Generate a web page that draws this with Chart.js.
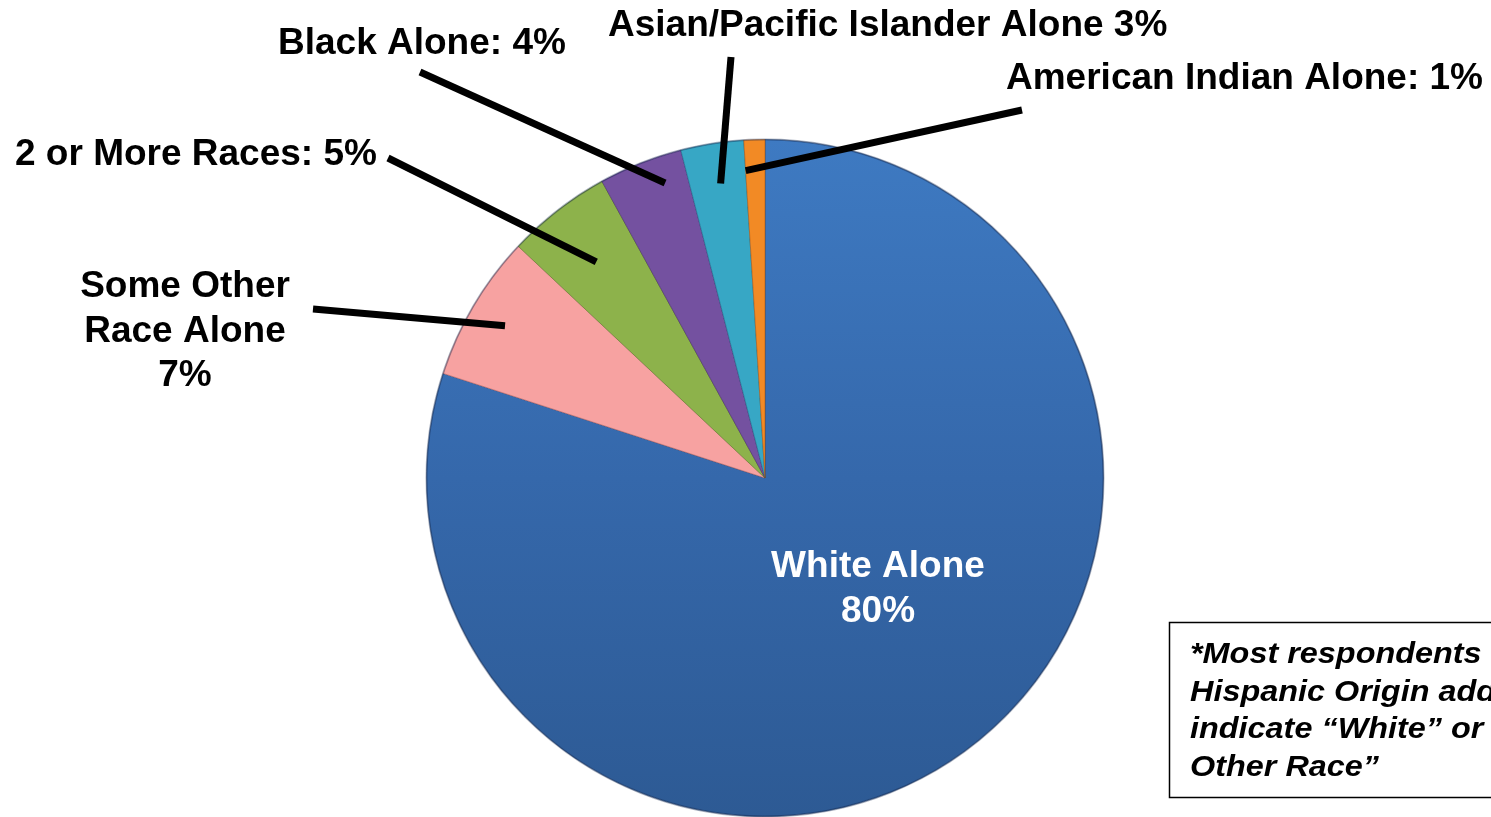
<!DOCTYPE html>
<html>
<head>
<meta charset="utf-8">
<script src="https://cdn.jsdelivr.net/npm/chart.js@4"></script>
<style>
  html, body { margin: 0; padding: 0; background: #fff; overflow: hidden; }
  #wrap { position: relative; width: 1491px; height: 817px; }
</style>
</head>
<body>
<div id="wrap"><canvas id="raceChart"></canvas></div>
<script>
// data
const categories = ['White Alone', 'Some Other Race Alone', '2 or More Races', 'Black Alone', 'Asian/Pacific Islander Alone', 'American Indian Alone'];
const shares = [80, 7, 5, 4, 3, 1];
const labelLines = [
    ['White Alone', '80%'],
    ['Some Other', 'Race Alone', '7%'],
    ['2 or More Races: 5%'],
    ['Black Alone: 4%'],
    ['Asian/Pacific Islander Alone 3%'],
    ['American Indian Alone: 1%']
];
const noteLines = ['*Most respondents of', 'Hispanic Origin additionally', 'indicate \u201cWhite\u201d or \u201cSome', 'Other Race\u201d'];

const sliceColors = ['#3a72b8', '#f7a2a1', '#8db24b', '#7451a0', '#37a7c5', '#f28a25'];
const sliceEdges = ['rgba(25,55,100,0.5)', 'rgba(170,90,90,0.5)', 'rgba(80,110,30,0.5)', 'rgba(60,30,100,0.5)', 'rgba(20,100,130,0.5)', 'rgba(170,80,10,0.5)'];

// label placement, offsets from pie centre; leader start given as position inside slice
const callouts = [
    { align: 'center', dx: 113, dy: 99, lh: 45, color: '#fff' },
    { align: 'center', dx: -580, dy: -181, lh: 44.5, color: '#000', out: [-452, -169], t: 0.49, rf: 0.89 },
    { align: 'left', dx: -750, dy: -313, lh: 0, color: '#000', out: [-377, -320], t: 0.49, rf: 0.81 },
    { align: 'left', dx: -487, dy: -424, lh: 0, color: '#000', out: [-345, -406], t: 0.70, rf: 0.92 },
    { align: 'left', dx: -157, dy: -442, lh: 0, color: '#000', out: [-34, -421], t: 0.54, rf: 0.88 },
    { align: 'left', dx: 241, dy: -389, lh: 0, color: '#000', out: [257, -368], t: 0.0, rf: 0.91 }
];

const calloutPlugin = {
    id: 'callouts',
    afterDatasetsDraw(chart) {
        const ctx = chart.ctx;
        const arcs = chart.getDatasetMeta(0).data;
        const cx = arcs[0].x, cy = arcs[0].y;

        // soft rim
        ctx.save();
        ctx.beginPath();
        ctx.arc(cx, cy, arcs[0].outerRadius, 0, Math.PI * 2);
        ctx.strokeStyle = 'rgba(20,40,80,0.35)';
        ctx.lineWidth = 2;
        ctx.stroke();
        ctx.restore();

        ctx.save();
        // leader lines
        callouts.forEach((c, i) => {
            if (!c.out) return;
            const a = arcs[i];
            const ang = a.startAngle + c.t * (a.endAngle - a.startAngle);
            const r = c.rf * a.outerRadius;
            ctx.beginPath();
            ctx.moveTo(cx + c.out[0], cy + c.out[1]);
            ctx.lineTo(cx + r * Math.cos(ang), cy + r * Math.sin(ang));
            ctx.strokeStyle = '#000';
            ctx.lineWidth = 7;
            ctx.lineCap = 'butt';
            ctx.stroke();
        });
        // texts
        ctx.font = 'bold 37px "Liberation Sans", Arial, sans-serif';
        ctx.textBaseline = 'alphabetic';
        callouts.forEach((c, i) => {
            ctx.fillStyle = c.color;
            ctx.textAlign = c.align;
            labelLines[i].forEach((ln, k) => {
                ctx.fillText(ln, cx + c.dx, cy + c.dy + k * c.lh);
            });
        });

        // note box
        ctx.fillStyle = '#fff';
        ctx.fillRect(1169, 622, 340, 175);
        ctx.strokeStyle = '#000';
        ctx.lineWidth = 1.5;
        ctx.strokeRect(1169.5, 622.5, 340, 175);
        ctx.font = 'italic bold 30px "Liberation Sans", Arial, sans-serif';
        ctx.fillStyle = '#000';
        ctx.textAlign = 'left';
        noteLines.forEach((ln, k) => {
            ctx.save();
            ctx.translate(1190, 663 + k * 37.7);
            ctx.scale(1.08, 1);
            ctx.fillText(ln, 0, 0);
            ctx.restore();
        });
        ctx.restore();
    }
};

document.addEventListener('DOMContentLoaded', function() {
    const ctxPie = document.getElementById('raceChart');

    new Chart(ctxPie, {
        type: 'pie',
        data: {
            labels: categories,
            datasets: [{
                data: shares,
                backgroundColor: function(context) {
                    const i = context.dataIndex;
                    const area = context.chart.chartArea;
                    if (i !== 0 || !area) return sliceColors[i];
                    const g = context.chart.ctx.createLinearGradient(0, area.top, 0, area.bottom);
                    g.addColorStop(0, '#3e7ac2');
                    g.addColorStop(0.5, '#3568ab');
                    g.addColorStop(1, '#2d5a94');
                    return g;
                },
                borderColor: sliceEdges,
                borderWidth: 1
            }]
        },
        options: {
            responsive: true,
            maintainAspectRatio: false,
            animation: false,
            layout: { padding: { top: 139, bottom: 0, left: 400, right: 361 } },
            plugins: {
                legend: { display: false },
                tooltip: { enabled: false }
            }
        },
        plugins: [calloutPlugin]
    });
});
</script>
</body>
</html>
